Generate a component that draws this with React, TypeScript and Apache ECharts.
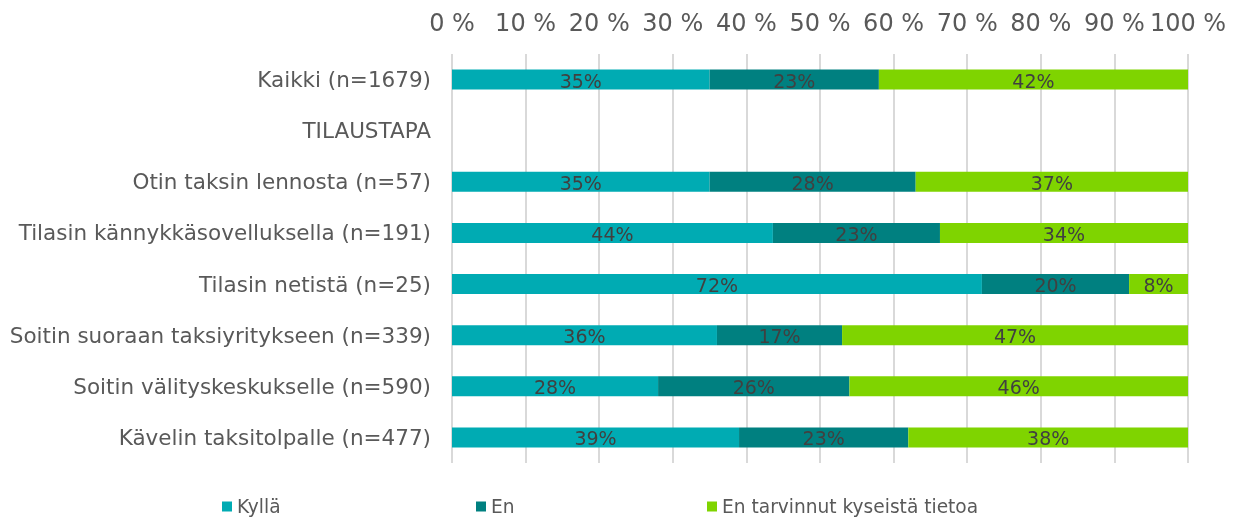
import React, { useEffect, useRef } from "react";
import * as echarts from "echarts";

const categories = [
  "Kaikki (n=1679)",
  "TILAUSTAPA",
  "Otin taksin lennosta (n=57)",
  "Tilasin kännykkäsovelluksella (n=191)",
  "Tilasin netistä (n=25)",
  "Soitin suoraan taksiyritykseen (n=339)",
  "Soitin välityskeskukselle (n=590)",
  "Kävelin taksitolpalle (n=477)",
];
const seriesNames = ["Kyllä", "En", "En tarvinnut kyseistä tietoa"];
const kylla = [35, null, 35, 43.6, 72, 36, 28, 39];
const en = [23, null, 28, 22.7, 20, 17, 26, 23];
const eiTarvinnut = [42, null, 37, 33.7, 8, 47, 46, 38];
const valueTicks = [0, 10, 20, 30, 40, 50, 60, 70, 80, 90, 100];
const colors = ["#00ABB3", "#008080", "#7FD400"];

const FONT = "DejaVu Sans";

export default function App() {
  const ref = useRef<HTMLDivElement>(null);
  useEffect(() => {
    if (!ref.current) return;
    const chart = echarts.init(ref.current, undefined, { renderer: "svg" });
    const data = [kylla, en, eiTarvinnut];
    const legendLefts = [222, 476, 707];
    chart.setOption({
      animation: false,
      textStyle: { fontFamily: FONT },
      grid: { left: 452, right: 49, top: 54, bottom: 54, containLabel: false },
      legend: seriesNames.map((n, i) => ({
        data: [n],
        left: legendLefts[i],
        top: 497,
        padding: 0,
        itemWidth: 10,
        itemHeight: 10,
        icon: "rect",
        textStyle: { fontFamily: FONT, fontSize: 18.6, color: "#595959" },
      })),
      xAxis: {
        type: "value",
        position: "top",
        min: valueTicks[0],
        max: valueTicks[valueTicks.length - 1],
        interval: 10,
        axisLine: { show: false },
        axisTick: { show: false },
        axisLabel: {
          formatter: "{value} %",
          fontFamily: FONT,
          fontSize: 24,
          color: "#595959",
          margin: 19,
        },
        splitLine: { lineStyle: { color: "#D9D9D9", width: 2 } },
      },
      yAxis: {
        type: "category",
        inverse: true,
        data: categories,
        axisLine: { show: false },
        axisTick: { show: false },
        axisLabel: {
          fontFamily: FONT,
          fontSize: 21.5,
          color: "#595959",
          margin: 21,
        },
      },
      series: seriesNames.map((n, i) => ({
        name: n,
        type: "bar",
        stack: "total",
        barWidth: 20,
        data: data[i],
        itemStyle: { color: colors[i] },
        label: {
          show: true,
          position: "inside",
          offset: [0, 1],
          fontFamily: FONT,
          fontSize: 19,
          color: "#404040",
          formatter: (p: any) => (p.value == null ? "" : Math.round(p.value) + "%"),
        },
      })),
    });
    return () => chart.dispose();
  }, []);
  return (
    <div
      ref={ref}
      style={{ position: "fixed", left: 0, top: 0, width: 1237, height: 517 }}
    />
  );
}
